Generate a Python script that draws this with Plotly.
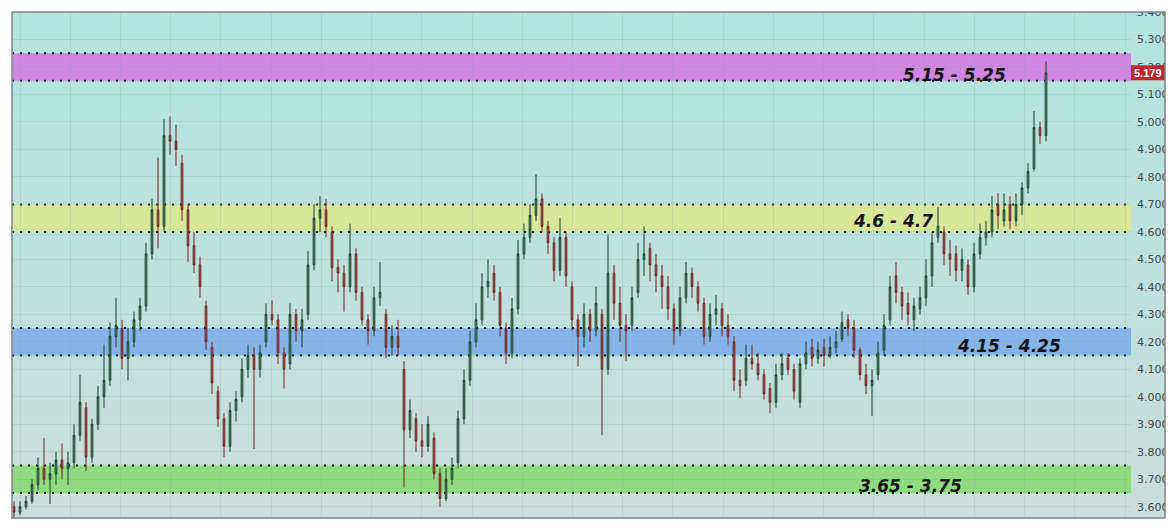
import plotly.graph_objects as go

# ---------------- data ----------------
opens = [3.60, 3.58, 3.60, 3.62, 3.68, 3.74, 3.70, 3.72, 3.77, 3.74,
         3.76, 3.86, 3.96, 3.78, 3.90, 4.00, 4.06, 4.22, 4.25, 4.14,
         4.20, 4.28, 4.33, 4.52, 4.68, 4.62, 4.95, 4.93, 4.85, 4.68,
         4.55, 4.48, 4.33, 4.18, 4.02, 3.92, 3.82, 3.95, 4.00, 4.10,
         4.15, 4.10, 4.20, 4.30, 4.28, 4.16, 4.12, 4.30, 4.24, 4.30,
         4.48, 4.65, 4.68, 4.60, 4.47, 4.45, 4.40, 4.52, 4.38, 4.28,
         4.24, 4.36, 4.30, 4.18, 4.22, 4.10, 3.88, 3.92, 3.84, 3.82,
         3.85, 3.72, 3.63, 3.70, 3.76, 3.92, 4.06, 4.20, 4.28, 4.40,
         4.45, 4.38, 4.25, 4.16, 4.32, 4.52, 4.58, 4.66, 4.72, 4.62,
         4.56, 4.46, 4.58, 4.40, 4.28, 4.22, 4.30, 4.24, 4.30, 4.10,
         4.45, 4.34, 4.26, 4.26, 4.38, 4.50, 4.54, 4.48, 4.44, 4.40,
         4.32, 4.24, 4.36, 4.45, 4.40, 4.34, 4.22, 4.30, 4.32, 4.26,
         4.20, 4.06, 4.06, 4.14, 4.12, 4.08, 4.03, 3.98, 4.08, 4.14,
         4.10, 3.98, 4.12, 4.18, 4.14, 4.18, 4.15, 4.18, 4.21, 4.28,
         4.25, 4.17, 4.08, 4.04, 4.08, 4.17, 4.28, 4.44, 4.38, 4.34,
         4.28, 4.32, 4.36, 4.44, 4.58, 4.60, 4.52, 4.52, 4.46, 4.48,
         4.40, 4.52, 4.58, 4.60, 4.70, 4.64, 4.70, 4.64, 4.70, 4.76,
         4.83, 4.98, 4.95]
highs = [3.62, 3.62, 3.64, 3.70, 3.78, 3.85, 3.76, 3.80, 3.83, 3.80,
         3.90, 4.08, 3.98, 3.92, 4.04, 4.19, 4.27, 4.36, 4.28, 4.25,
         4.31, 4.36, 4.56, 4.72, 4.87, 5.01, 5.02, 4.99, 4.88, 4.70,
         4.60, 4.51, 4.35, 4.20, 4.04, 3.94, 3.98, 4.02, 4.14, 4.19,
         4.18, 4.19, 4.34, 4.35, 4.30, 4.18, 4.34, 4.32, 4.32, 4.53,
         4.70, 4.73, 4.72, 4.62, 4.50, 4.48, 4.63, 4.54, 4.40, 4.30,
         4.40, 4.49, 4.32, 4.26, 4.28, 4.13, 3.99, 3.94, 3.90, 3.93,
         3.87, 3.74, 3.74, 3.78, 3.95, 4.10, 4.24, 4.34, 4.45, 4.50,
         4.48, 4.40, 4.27, 4.36, 4.57, 4.63, 4.70, 4.81, 4.74, 4.64,
         4.58, 4.65, 4.60, 4.42, 4.30, 4.34, 4.32, 4.40, 4.32, 4.59,
         4.48, 4.40, 4.30, 4.40, 4.56, 4.62, 4.56, 4.52, 4.48, 4.44,
         4.34, 4.40, 4.49, 4.47, 4.42, 4.36, 4.34, 4.37, 4.34, 4.30,
         4.22, 4.10, 4.19, 4.19, 4.16, 4.10, 4.05, 4.12, 4.16, 4.16,
         4.12, 4.14, 4.20, 4.21, 4.20, 4.21, 4.22, 4.24, 4.31, 4.30,
         4.28, 4.18, 4.12, 4.10, 4.20, 4.30, 4.44, 4.49, 4.40, 4.38,
         4.36, 4.40, 4.50, 4.60, 4.69, 4.62, 4.57, 4.55, 4.54, 4.50,
         4.56, 4.63, 4.64, 4.73, 4.74, 4.74, 4.73, 4.74, 4.78, 4.85,
         5.04, 5.00, 5.22]
lows = [3.56, 3.57, 3.59, 3.61, 3.66, 3.68, 3.61, 3.68, 3.70, 3.68,
        3.74, 3.84, 3.73, 3.76, 3.88, 3.96, 4.04, 4.18, 4.10, 4.06,
        4.18, 4.24, 4.31, 4.50, 4.54, 4.60, 4.88, 4.84, 4.64, 4.49,
        4.45, 4.36, 4.17, 4.01, 3.89, 3.78, 3.80, 3.91, 3.98, 4.07,
        3.81, 4.07, 4.18, 4.26, 4.12, 4.03, 4.10, 4.20, 4.18, 4.28,
        4.46, 4.60, 4.58, 4.42, 4.38, 4.31, 4.38, 4.35, 4.26, 4.19,
        4.22, 4.33, 4.14, 4.15, 4.15, 3.67, 3.85, 3.80, 3.78, 3.80,
        3.70, 3.60, 3.62, 3.68, 3.74, 3.90, 4.04, 4.18, 4.26, 4.36,
        4.35, 4.22, 4.12, 4.14, 4.30, 4.50, 4.56, 4.64, 4.60, 4.52,
        4.42, 4.44, 4.40, 4.24, 4.11, 4.18, 4.20, 4.22, 3.86, 4.08,
        4.28, 4.20, 4.13, 4.24, 4.36, 4.44, 4.42, 4.38, 4.32, 4.28,
        4.19, 4.22, 4.34, 4.36, 4.31, 4.19, 4.20, 4.26, 4.22, 4.19,
        4.02, 3.995, 4.04, 4.10, 4.06, 3.99, 3.94, 3.96, 4.06, 4.08,
        3.99, 3.96, 4.10, 4.11, 4.12, 4.11, 4.14, 4.16, 4.20, 4.22,
        4.14, 4.06, 4.01, 3.93, 4.06, 4.15, 4.26, 4.34, 4.28, 4.26,
        4.24, 4.30, 4.33, 4.40, 4.56, 4.48, 4.44, 4.42, 4.42, 4.37,
        4.38, 4.50, 4.55, 4.58, 4.61, 4.62, 4.61, 4.62, 4.66, 4.74,
        4.82, 4.92, 4.93]
closes = [3.58, 3.60, 3.62, 3.68, 3.74, 3.70, 3.72, 3.77, 3.74, 3.76,
          3.86, 3.98, 3.78, 3.90, 4.00, 4.06, 4.22, 4.26, 4.14, 4.20,
          4.28, 4.33, 4.52, 4.68, 4.62, 4.95, 4.93, 4.90, 4.68, 4.55,
          4.48, 4.40, 4.20, 4.05, 3.92, 3.82, 3.95, 3.99, 4.10, 4.15,
          4.10, 4.16, 4.30, 4.28, 4.16, 4.10, 4.30, 4.24, 4.28, 4.48,
          4.65, 4.68, 4.62, 4.47, 4.45, 4.40, 4.52, 4.38, 4.28, 4.24,
          4.36, 4.38, 4.18, 4.22, 4.18, 3.88, 3.95, 3.84, 3.82, 3.90,
          3.72, 3.63, 3.70, 3.74, 3.92, 4.06, 4.20, 4.28, 4.40, 4.42,
          4.38, 4.26, 4.16, 4.32, 4.52, 4.58, 4.66, 4.72, 4.62, 4.56,
          4.46, 4.58, 4.44, 4.28, 4.22, 4.30, 4.24, 4.34, 4.10, 4.45,
          4.34, 4.26, 4.24, 4.36, 4.50, 4.52, 4.48, 4.44, 4.40, 4.32,
          4.24, 4.36, 4.45, 4.40, 4.34, 4.22, 4.30, 4.32, 4.26, 4.22,
          4.06, 4.04, 4.14, 4.12, 4.08, 4.01, 3.98, 4.08, 4.12, 4.10,
          4.02, 4.12, 4.16, 4.14, 4.17, 4.15, 4.18, 4.20, 4.27, 4.25,
          4.17, 4.08, 4.04, 4.06, 4.16, 4.26, 4.40, 4.38, 4.33, 4.30,
          4.33, 4.36, 4.44, 4.56, 4.62, 4.52, 4.50, 4.46, 4.50, 4.40,
          4.52, 4.58, 4.60, 4.68, 4.66, 4.68, 4.64, 4.70, 4.76, 4.82,
          4.98, 4.95, 5.179]

zones = [(5.15, 5.25), (4.60, 4.70), (4.15, 4.25), (3.65, 3.75)]
zone_labels = ["5.15 - 5.25", "4.6 - 4.7", "4.15 - 4.25", "3.65 - 3.75"]
last_price_label = "5.179"
y_ticks = [3.6, 3.7, 3.8, 3.9, 4.0, 4.1, 4.2, 4.3, 4.4, 4.5, 4.6, 4.7,
           4.8, 4.9, 5.0, 5.1, 5.2, 5.3, 5.4]

# ---------------- styling ----------------
zone_colors = ["#d285e3", "#d9e79b", "#86b4e8", "#90da80"]
label_pos = [(0.842, 5.170), (0.787, 4.639), (0.891, 4.184), (0.803, 3.677)]
FR = (1165 - 12) / 1119.0   # frame right edge in paper units

idx = list(range(len(closes)))

fig = go.Figure()
fig.add_trace(go.Candlestick(
    x=idx, open=opens, high=highs, low=lows, close=closes,
    increasing=dict(line=dict(color="#173f2a", width=1), fillcolor="#6f9c84"),
    decreasing=dict(line=dict(color="#6e2222", width=1), fillcolor="#a9605c"),
    whiskerwidth=0, showlegend=False, hoverinfo="skip",
))

shapes = []
# background gradient (top teal -> bottom greyish teal)
top_c = (178, 229, 221)
bot_c = (201, 222, 219)
nstr = 50
for k in range(nstr):
    t = (k + 0.5) / nstr
    r = round(top_c[0] + (bot_c[0] - top_c[0]) * t)
    g = round(top_c[1] + (bot_c[1] - top_c[1]) * t)
    b = round(top_c[2] + (bot_c[2] - top_c[2]) * t)
    shapes.append(dict(type="rect", xref="paper", yref="paper",
                       x0=0, x1=FR, y0=1 - (k + 1) / nstr - 0.001, y1=1 - k / nstr,
                       fillcolor=f"rgb({r},{g},{b})", line=dict(width=0),
                       layer="below"))
# zones
for (lo, hi), col in zip(zones, zone_colors):
    shapes.append(dict(type="rect", xref="paper", yref="y", x0=0, x1=1,
                       y0=lo, y1=hi, fillcolor=col, line=dict(width=0),
                       layer="below"))
    for yv in (lo, hi):
        shapes.append(dict(type="line", xref="paper", yref="y", x0=0, x1=1,
                           y0=yv, y1=yv,
                           line=dict(color="#151515", width=2, dash="2px,6px"),
                           layer="below"))
# masks emulating clipping of the frame
shapes.append(dict(type="rect", xref="paper", yref="paper", x0=FR, x1=1.1,
                   y0=-0.1, y1=1.1, fillcolor="white", line=dict(width=0),
                   layer="above"))
shapes.append(dict(type="rect", xref="paper", yref="paper", x0=-0.05, x1=1.1,
                   y0=1.0, y1=1.1, fillcolor="white", line=dict(width=0),
                   layer="above"))
# last price tag
shapes.append(dict(type="rect", xref="paper", yref="y", x0=1.0, x1=FR,
                   y0=closes[-1] - 0.027, y1=closes[-1] + 0.027,
                   fillcolor="#c3272d", line=dict(width=0), layer="above"))
# frame border
shapes.append(dict(type="rect", xref="paper", yref="paper", x0=0, x1=FR,
                   y0=0, y1=1, line=dict(color="#7b8886", width=1.5),
                   layer="above"))

annotations = []
for txt, (px, py) in zip(zone_labels, label_pos):
    annotations.append(dict(text=txt, xref="paper", yref="y", x=px, y=py,
                            showarrow=False, xanchor="center", yanchor="middle",
                            font=dict(family="DejaVu Sans", size=17,
                                      color="#141414", style="italic",
                                      weight="bold")))
annotations.append(dict(text=last_price_label, xref="paper", yref="y",
                        x=(1.0 + FR) / 2, y=closes[-1], xanchor="center",
                        yanchor="middle", showarrow=False,
                        font=dict(family="Liberation Sans", size=11,
                                  color="white", weight="bold")))

step = 6.0
fig.update_layout(
    width=1175, height=528,
    margin=dict(l=12, r=44, t=12, b=10, autoexpand=False),
    paper_bgcolor="white", plot_bgcolor="rgba(0,0,0,0)",
    shapes=shapes, annotations=annotations,
    showlegend=False, boxgap=0.6,
    xaxis=dict(range=[-(14 - 12) / step, (len(closes) - 1) + (1131 - 1046) / step],
               rangeslider=dict(visible=False), showticklabels=False,
               ticks="", showgrid=True, gridcolor="rgba(120,165,160,0.2)",
               gridwidth=1, tick0=1.0, dtick=50.23 / step, zeroline=False,
               showline=False, automargin=False),
    yaxis=dict(range=[3.559, 5.40], side="right", tickvals=y_ticks,
               ticktext=[f"{v:.3f}" for v in y_ticks], ticks="",
               ticklabelstandoff=5, automargin=False,
               tickfont=dict(family="DejaVu Sans", size=11, color="#474747"),
               showgrid=True, gridcolor="rgba(120,165,160,0.2)", gridwidth=1,
               zeroline=False, showline=False),
)

fig.write_html("out.html", config={"displayModeBar": False},
               post_script="document.body.style.margin='0px';"
                           "document.body.style.overflow='hidden';")
